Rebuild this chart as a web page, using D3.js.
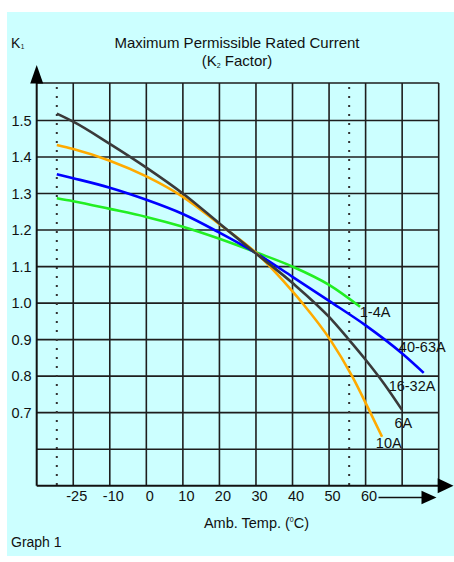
<!DOCTYPE html>
<html>
<head>
<meta charset="utf-8">
<script src="https://cdn.jsdelivr.net/npm/d3@7"></script>
<style>
body { margin: 0; background: #fff; }
text { font-family: "Liberation Sans", Arial, sans-serif; fill: #111; }
</style>
</head>
<body>
<div class="chart"></div>
<script>
// grid columns: the first column edge is unlabelled, then uneven steps
var tempBreaks = [-35, -25, -10, 0, 10, 20, 30, 40, 50, 60, 70, 80];
var xTickLabels = [-25, -10, 0, 10, 20, 30, 40, 50, 60];
var yTickLabels = [0.7, 0.8, 0.9, 1.0, 1.1, 1.2, 1.3, 1.4, 1.5];
var yGridLines = [0.5, 0.6, 0.7, 0.8, 0.9, 1.0, 1.1, 1.2, 1.3, 1.4, 1.5, 1.6];
var limitTemps = [-29.5, 55.5];

// K factor curves
var temps_1_4A = [-29.5, -25, -10, 0, 10, 20, 30, 40, 50, 58.5];
var k_1_4A     = [1.287, 1.279, 1.258, 1.236, 1.209, 1.176, 1.139, 1.100, 1.050, 0.990];

var temps_40_63A = [-29.5, -25, -10, 0, 10, 20, 30, 40, 50, 60, 70, 75.9];
var k_40_63A     = [1.353, 1.342, 1.316, 1.283, 1.244, 1.193, 1.137, 1.072, 1.006, 0.939, 0.862, 0.809];

var temps_6A = [-29.5, -25, -10, 0, 10, 20, 30, 40, 50, 55, 60, 65, 70];
var k_6A     = [1.519, 1.497, 1.436, 1.371, 1.300, 1.218, 1.136, 1.055, 0.962, 0.905, 0.845, 0.780, 0.707];

var temps_10A = [-29.5, -25, -10, 0, 10, 20, 30, 40, 42.7, 50.3, 56.3, 61.3, 64.5];
var k_10A     = [1.433, 1.422, 1.390, 1.347, 1.291, 1.216, 1.138, 1.032, 1.000, 0.900, 0.800, 0.700, 0.634];

var curveLabels = ["1-4A", "40-63A", "16-32A", "6A", "10A"];
var labelTemps  = [58.4, 69.1, 66.3, 67.9, 62.8];
var labelK      = [0.962, 0.865, 0.758, 0.659, 0.603];

var series = [
    { name: "1-4A", temps: temps_1_4A, k: k_1_4A, color: "#22ee22" },
    { name: "40-63A", temps: temps_40_63A, k: k_40_63A, color: "#0000ff" },
    { name: "10A", temps: temps_10A, k: k_10A, color: "#ffaa00" },
    { name: "6A", temps: temps_6A, k: k_6A, color: "#3a3a3a" }
];

var width = 454, height = 562;
var left = 36.7, right = 438.7;
var step = (right - left) / (tempBreaks.length - 1);

var x = d3.scaleLinear()
    .domain(tempBreaks)
    .range(tempBreaks.map(function(d, i) { return left + i * step; }));
var y = d3.scaleLinear()
    .domain([0.5, 1.5])
    .range([485.7, 120.5]);

var svg = d3.select(".chart")
  .append("svg")
    .attr("width", width)
    .attr("height", height);

svg.append("rect")
    .attr("x", 7).attr("y", 12)
    .attr("width", 447).attr("height", 544)
    .attr("fill", "#ccffff");

var yTop = y(1.6) - 1, yBottom = y(0.5);

// grid
svg.append("g")
    .selectAll("line")
    .data(tempBreaks.slice(1))
    .enter()
    .append("line")
    .attr("x1", function(d) { return x(d); })
    .attr("x2", function(d) { return x(d); })
    .attr("y1", yTop)
    .attr("y2", yBottom)
    .attr("stroke", "#1e1e1e")
    .attr("stroke-width", 1.6);

svg.append("g")
    .selectAll("line")
    .data(yGridLines.slice(1))
    .enter()
    .append("line")
    .attr("x1", left)
    .attr("x2", right)
    .attr("y1", function(d) { return d === 1.6 ? yTop : y(d); })
    .attr("y2", function(d) { return d === 1.6 ? yTop : y(d); })
    .attr("stroke", "#1e1e1e")
    .attr("stroke-width", 1.6);

// operating limits
svg.append("g")
    .selectAll("line")
    .data(limitTemps)
    .enter()
    .append("line")
    .attr("x1", function(d) { return x(d); })
    .attr("x2", function(d) { return x(d); })
    .attr("y1", yTop + 4)
    .attr("y2", yBottom)
    .attr("stroke", "#333")
    .attr("stroke-width", 2)
    .attr("stroke-dasharray", "2,7");

// axes lines + arrows
svg.append("line")
    .attr("x1", left).attr("x2", left)
    .attr("y1", 70).attr("y2", yBottom)
    .attr("stroke", "#111").attr("stroke-width", 2);
svg.append("path")
    .attr("d", "M" + left + ",65L" + (left - 6.5) + "," + (yTop + 0.5) + "L" + (left + 6.5) + "," + (yTop + 0.5) + "Z")
    .attr("fill", "#000");

svg.append("line")
    .attr("x1", left).attr("x2", right)
    .attr("y1", yBottom).attr("y2", yBottom)
    .attr("stroke", "#111").attr("stroke-width", 2);
svg.append("path")
    .attr("d", "M" + (right - 1) + "," + (yBottom - 7.5) + "L453.5," + yBottom + "L" + (right - 1) + "," + (yBottom + 7.5) + "Z")
    .attr("fill", "#000");

// curves
var line = d3.line()
    .x(function(d) { return x(d[0]); })
    .y(function(d) { return y(d[1]); })
    .curve(d3.curveMonotoneX);

svg.append("g")
    .selectAll("path")
    .data(series)
    .enter()
    .append("path")
    .attr("d", function(s) { return line(d3.zip(s.temps, s.k)); })
    .attr("fill", "none")
    .attr("stroke", function(s) { return s.color; })
    .attr("stroke-width", 2.6);

// y axis labels
svg.append("g")
    .attr("transform", "translate(" + left + ",0)")
    .call(d3.axisLeft(y).tickValues(yTickLabels).tickSize(0).tickPadding(5).tickFormat(d3.format(".1f")))
    .call(function(g) { g.select(".domain").remove(); })
    .selectAll("text")
    .attr("font-size", "14.5px")
    .attr("font-family", null)
    .attr("fill", "#111");

// x axis labels
svg.append("g")
    .attr("transform", "translate(0," + yBottom + ")")
    .call(d3.axisBottom(x).tickValues(xTickLabels).tickSize(0).tickPadding(5.5).tickFormat(function(d) { return String(d); }))
    .call(function(g) { g.select(".domain").remove(); })
    .selectAll("text")
    .attr("dx", 3)
    .attr("font-size", "14.5px")
    .attr("font-family", null)
    .attr("fill", "#111");

// direction arrow under the axis
svg.append("line")
    .attr("x1", 378.5).attr("x2", 424)
    .attr("y1", 497.5).attr("y2", 497.5)
    .attr("stroke", "#111").attr("stroke-width", 1.5);
svg.append("path")
    .attr("d", "M421.5,490.7L436.5,497.5L421.5,504.3Z")
    .attr("fill", "#000");

// curve labels
svg.append("g")
    .selectAll("text")
    .data(curveLabels)
    .enter()
    .append("text")
    .attr("x", function(d, i) { return x(labelTemps[i]); })
    .attr("y", function(d, i) { return y(labelK[i]); })
    .attr("font-size", "14.5px")
    .text(function(d) { return d; });

// titles
var title = svg.append("g").attr("text-anchor", "middle").attr("font-size", "15px");
title.append("text").attr("x", 237).attr("y", 47.5).text("Maximum Permissible Rated Current");
var t2 = title.append("text").attr("x", 237).attr("y", 66);
t2.append("tspan").text("(K");
t2.append("tspan").attr("font-size", "7px").attr("dy", 2).text("2");
t2.append("tspan").attr("dy", -2).text(" Factor)");

var k1 = svg.append("text").attr("x", 11).attr("y", 47.5).attr("font-size", "14px");
k1.append("tspan").text("K");
k1.append("tspan").attr("font-size", "6.5px").attr("dy", 1).attr("dx", 0.5).text("1");

var xt = svg.append("text").attr("x", 256.5).attr("y", 527.5).attr("text-anchor", "middle").attr("font-size", "14.5px");
xt.append("tspan").text("Amb. Temp. (");
xt.append("tspan").attr("font-size", "7px").attr("dy", -6).text("0");
xt.append("tspan").attr("dy", 6).text("C)");

svg.append("text").attr("x", 11).attr("y", 546.5).attr("font-size", "14px").text("Graph 1");
</script>
</body>
</html>
